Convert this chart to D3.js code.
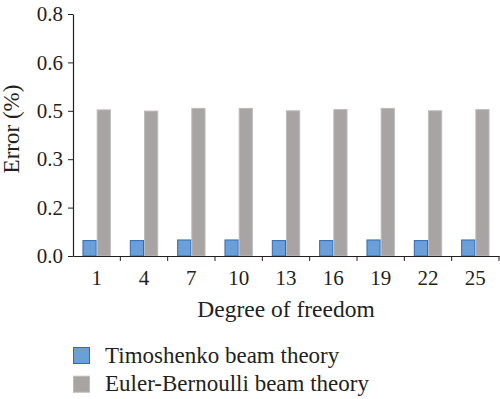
<!DOCTYPE html>
<html>
<head>
<meta charset="utf-8">
<script src="https://cdn.jsdelivr.net/npm/d3@7"></script>
<style>
  body { margin: 0; background: #fff; }
</style>
</head>
<body>
<div id="chart"></div>
<script>
var categories = ["1", "4", "7", "10", "13", "16", "19", "22", "25"];
var seriesNames = ["Timoshenko beam theory", "Euler-Bernoulli beam theory"];
var timoshenko = [0.051, 0.051, 0.053, 0.053, 0.051, 0.051, 0.053, 0.051, 0.053];
var eulerBernoulli = [0.483, 0.479, 0.488, 0.488, 0.480, 0.484, 0.488, 0.480, 0.484];
var yTickValues = [0, 0.16, 0.32, 0.48, 0.64, 0.8];
var yTickLabels = ["0.0", "0.2", "0.3", "0.5", "0.6", "0.8"];

var svgWidth = 500;
var svgHeight = 399;
var margin = { top: 14, right: 1, bottom: 143, left: 73 };
var width = svgWidth - margin.left - margin.right;
var height = svgHeight - margin.top - margin.bottom;

var fontFam = '"Liberation Serif"';
var ink = "#231f20";
var colors = ["#6a9fd8", "#a8a4a4"];
var strokes = ["#2f6bb8", "#bdbaba"];

var svg = d3.select("#chart")
  .append("svg")
  .attr("width", svgWidth)
  .attr("height", svgHeight);

var chartGroup = svg.append("g")
  .attr("transform", `translate(${margin.left}, ${margin.top})`);

var data = categories.map(function(c, i) {
  return { cat: c, values: [timoshenko[i], eulerBernoulli[i]] };
});

var x0 = d3.scaleBand()
  .domain(categories)
  .range([0, width])
  .padding(0);

var x1 = d3.scaleBand()
  .domain([0, 1])
  .range([0, x0.bandwidth()])
  .paddingInner(0)
  .paddingOuter(0.667);

var y = d3.scaleLinear()
  .domain([0, 0.8])
  .range([height, 0]);

// bars
var groups = chartGroup.selectAll(".grp")
  .data(data)
  .enter()
  .append("g")
  .attr("class", "grp")
  .attr("transform", d => `translate(${x0(d.cat)}, 0)`);

groups.selectAll("rect")
  .data(d => d.values.map((v, k) => ({ k: k, v: v })))
  .enter()
  .append("rect")
  .attr("x", d => x1(d.k) + 0.5)
  .attr("y", d => y(d.v))
  .attr("width", x1.bandwidth() - 1)
  .attr("height", d => height - y(d.v))
  .attr("fill", d => colors[d.k])
  .attr("stroke", d => strokes[d.k])
  .attr("stroke-width", 1);

// y axis
var leftAxis = d3.axisLeft(y)
  .tickValues(yTickValues)
  .tickFormat((d, i) => yTickLabels[i])
  .tickSize(5)
  .tickSizeOuter(0)
  .tickPadding(5);

var yAxis = chartGroup.append("g")
  .call(leftAxis);

// x axis: ticks at band boundaries
var bottomAxis = d3.axisBottom(x0)
  .tickSize(0)
  .tickSizeOuter(0)
  .tickPadding(14);

var xAxis = chartGroup.append("g")
  .attr("transform", `translate(0, ${height})`)
  .call(bottomAxis);

xAxis.selectAll(".boundary")
  .data(categories)
  .enter()
  .append("line")
  .attr("class", "boundary")
  .attr("x1", d => x0(d) + x0.bandwidth())
  .attr("x2", d => x0(d) + x0.bandwidth())
  .attr("y1", 0)
  .attr("y2", 5)
  .attr("stroke", ink);

chartGroup.selectAll(".domain").attr("stroke", ink).attr("stroke-width", 1.2);
chartGroup.selectAll(".tick line").attr("stroke", ink);
chartGroup.selectAll(".tick text")
  .attr("font-family", "Liberation Serif")
  .style("font-size", "21px")
  .style("font-family", fontFam)
  .attr("fill", ink);

// axis labels
chartGroup.append("text")
  .attr("x", width / 2)
  .attr("y", height + 61)
  .attr("text-anchor", "middle")
  .attr("font-family", "Liberation Serif")
  .style("font-family", fontFam)
  .style("font-size", "23.5px")
  .attr("fill", ink)
  .text("Degree of freedom");

chartGroup.append("text")
  .attr("transform", "rotate(-90)")
  .attr("x", -115)
  .attr("y", -54)
  .attr("text-anchor", "middle")
  .attr("font-family", "Liberation Serif")
  .style("font-family", fontFam)
  .style("font-size", "23px")
  .attr("fill", ink)
  .text("Error (%)");

// legend
var legend = svg.append("g")
  .attr("transform", "translate(73, 347)");

var legendItems = legend.selectAll("g")
  .data(seriesNames)
  .enter()
  .append("g")
  .attr("transform", (d, i) => `translate(0, ${i * 28.7})`);

legendItems.append("rect")
  .attr("x", 0.5)
  .attr("y", 0.5)
  .attr("width", 16)
  .attr("height", 16)
  .attr("fill", (d, i) => colors[i])
  .attr("stroke", (d, i) => strokes[i]);

legendItems.append("text")
  .attr("x", 32)
  .attr("y", 15.5)
  .attr("font-family", "Liberation Serif")
  .style("font-family", fontFam)
  .style("font-size", "23px")
  .attr("fill", ink)
  .text(d => d);
</script>
</body>
</html>
